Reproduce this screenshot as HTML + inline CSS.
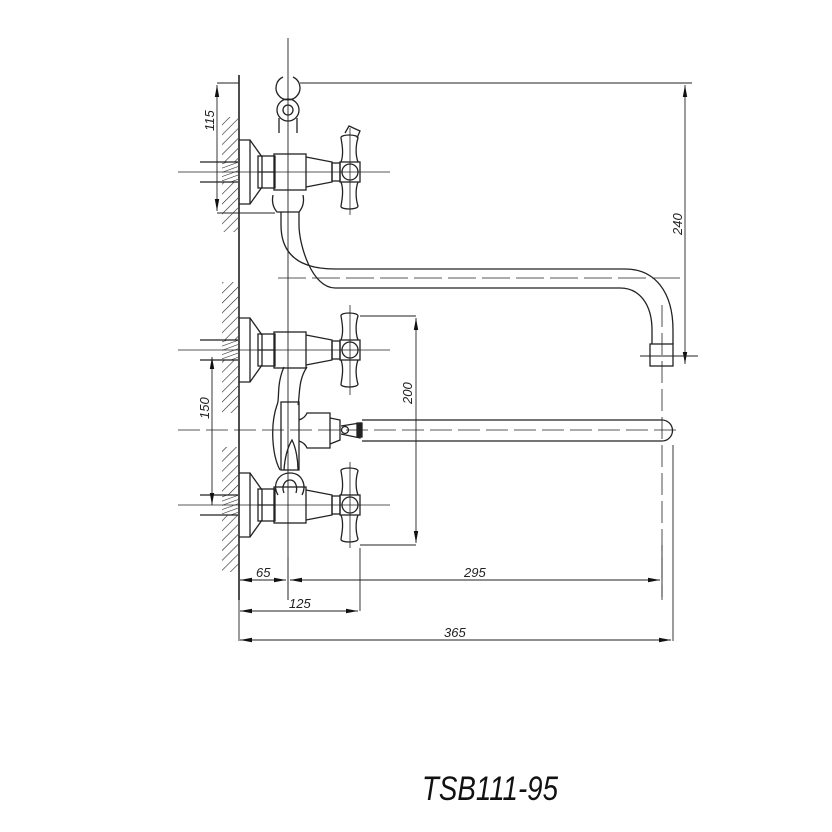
<!DOCTYPE html>
<html><head><meta charset="utf-8"><style>
html,body{margin:0;padding:0;background:#fff}
svg{display:block}
</style></head><body>
<svg width="832" height="832" viewBox="0 0 832 832" xmlns="http://www.w3.org/2000/svg">
<defs>
<pattern id="h" width="7" height="7" patternUnits="userSpaceOnUse" patternTransform="rotate(45)">
<line x1="0" y1="0" x2="0" y2="7" stroke="#222" stroke-width="1.2"/>
</pattern>
<pattern id="t" width="4" height="4" patternUnits="userSpaceOnUse" patternTransform="rotate(70)">
<line x1="0" y1="0" x2="0" y2="4" stroke="#222" stroke-width="1.1"/>
</pattern>
<marker id="a" markerWidth="12" markerHeight="6" refX="12" refY="3" orient="auto-start-reverse" markerUnits="userSpaceOnUse">
<path d="M0,0.8 L12,3 L0,5.2 Z" fill="#111"/>
</marker>
<g id="valve" fill="none" stroke="#222" stroke-width="1.3">
<path d="M239,-32 L250,-32 L262,-15 L262,15 L250,32 L239,32"/>
<line x1="250" y1="-32" x2="250" y2="32"/>
<rect x="258" y="-16" width="17" height="32"/>
<line x1="258" y1="0" x2="275" y2="0"/>
<rect x="274" y="-18" width="32" height="36"/>
<path d="M306,-15 L332,-10 L332,10 L306,15"/>
<rect x="332" y="-9" width="8" height="18"/>
<rect x="340" y="-10" width="20" height="20"/>
<circle cx="350" cy="0" r="8"/>
<path d="M341,-10 C344,-18 342,-28 341,-34 C340,-38 358,-38 358,-34 C356,-28 355,-18 358,-10"/>
<path d="M341,10 C344,18 342,28 341,34 C340,38 358,38 358,34 C356,28 355,18 358,10"/>
<rect x="222" y="-10" width="16" height="20" fill="url(#t)" stroke="none"/>
<line x1="200" y1="-10" x2="238" y2="-10"/>
<line x1="200" y1="10" x2="238" y2="10"/>
</g>
</defs>

<rect x="222" y="117" width="16" height="115" fill="url(#h)"/>
<rect x="222" y="282" width="16" height="131" fill="url(#h)"/>
<rect x="222" y="447" width="16" height="125" fill="url(#h)"/>
<rect x="222" y="162" width="16" height="20" fill="#fff"/>
<rect x="222" y="340" width="16" height="20" fill="#fff"/>
<rect x="222" y="495" width="16" height="20" fill="#fff"/>

<g stroke="#222" fill="none">
<line x1="239" y1="75" x2="239" y2="600" stroke-width="1.6"/>
<line x1="288" y1="38" x2="288" y2="600" stroke-width="0.9"/>
<line x1="178" y1="172" x2="390" y2="172" stroke-width="0.8"/>
<line x1="178" y1="350" x2="390" y2="350" stroke-width="0.8"/>
<line x1="178" y1="505" x2="390" y2="505" stroke-width="0.8"/>
<line x1="178" y1="430" x2="680" y2="430" stroke-width="0.8" stroke-dasharray="22,6"/>
<line x1="278" y1="278" x2="680" y2="278" stroke-width="0.8" stroke-dasharray="28,6"/>
<line x1="350" y1="128" x2="350" y2="215" stroke-width="0.8"/>
<line x1="350" y1="305" x2="350" y2="395" stroke-width="0.8"/>
<line x1="350" y1="462" x2="350" y2="548" stroke-width="0.8"/>
<line x1="662" y1="305" x2="662" y2="600" stroke-width="0.8" stroke-dasharray="22,6"/>
</g>

<use href="#valve" transform="translate(0,172)"/>
<use href="#valve" transform="translate(0,350)"/>
<use href="#valve" transform="translate(0,505)"/>

<g fill="none" stroke="#222" stroke-width="1.3">
<path d="M283,77 A12,12 0 1 0 293,77"/>
<circle cx="288" cy="110" r="11"/>
<circle cx="288" cy="110" r="5"/>
<path d="M279,118 L279,133 M297,118 L297,133"/>
<path d="M345,133 L349,126 L360,131 L357,138" />
<path d="M273,195 Q271,205 277,212 L299,212 Q305,205 303,195"/>
<path d="M281,212 L281,225 C281,255 300,269 335,269 L625,269 C655,269 673,292 673,330 L673,344"/>
<path d="M299,212 L299,225 C299,245 312,288 335,288 L620,288 C640,288 652,305 652,330 L652,344"/>
<rect x="650" y="344" width="23" height="22"/>
<path d="M284,367 C276,385 280,400 277,405 C270,425 272,455 280,470"/>
<path d="M307,367 C298,380 300,395 298,405"/>
<rect x="281" y="402" width="18" height="68"/>
<path d="M284,470 C285,455 289,445 292,440 C296,448 298,460 298,470"/>
<path d="M299,420 Q305,418 307,413 L330,413 L330,448 L307,448 Q305,443 299,441"/>
<path d="M330,418 L340,420 L340,440 L330,444"/>
<circle cx="345" cy="430" r="3.5"/>
<path d="M341,426 L360,423 L360,438 L341,434"/>
<rect x="357" y="423" width="5" height="14" fill="#222"/>
<path d="M362,420 L662,420 A10.5,10.5 0 0 1 662,441 L362,441"/>
<path d="M278,495 C272,485 278,473 290,473 C302,473 307,485 302,495"/>
<path d="M284,493 C281,486 285,480 290,480 C295,480 298,486 296,493"/>
</g>

<g stroke="#222" stroke-width="0.9" fill="none">
<line x1="300" y1="83" x2="692" y2="83"/>
<line x1="217" y1="83" x2="239" y2="83"/>
<line x1="217" y1="213" x2="275" y2="213"/>
<line x1="217" y1="85" x2="217" y2="211" marker-start="url(#a)" marker-end="url(#a)"/>
<line x1="685" y1="85" x2="685" y2="364" marker-start="url(#a)" marker-end="url(#a)"/>
<line x1="640" y1="356" x2="698" y2="356"/>
<line x1="212" y1="357" x2="212" y2="505" marker-start="url(#a)" marker-end="url(#a)"/>
<line x1="360" y1="316" x2="416" y2="316"/>
<line x1="360" y1="545" x2="416" y2="545"/>
<line x1="416" y1="318" x2="416" y2="543" marker-start="url(#a)" marker-end="url(#a)"/>
<line x1="288" y1="557" x2="288" y2="600"/>
<line x1="662" y1="545" x2="662" y2="597"/>
<line x1="360" y1="548" x2="360" y2="611"/>
<line x1="673" y1="445" x2="673" y2="641"/>
<line x1="239" y1="600" x2="239" y2="641"/>
<line x1="240" y1="580" x2="286" y2="580" marker-start="url(#a)" marker-end="url(#a)"/>
<line x1="290" y1="580" x2="660" y2="580" marker-start="url(#a)" marker-end="url(#a)"/>
<line x1="240" y1="611" x2="358" y2="611" marker-start="url(#a)" marker-end="url(#a)"/>
<line x1="240" y1="640" x2="671" y2="640" marker-start="url(#a)" marker-end="url(#a)"/>
</g>
<g font-family="Liberation Sans, sans-serif" font-style="italic" font-size="13" fill="#222">
<text x="256" y="577">65</text>
<text x="464" y="577">295</text>
<text x="289" y="608">125</text>
<text x="444" y="637">365</text>
<text transform="translate(214,131) rotate(-90)">115</text>
<text transform="translate(209,419) rotate(-90)">150</text>
<text transform="translate(412,404) rotate(-90)">200</text>
<text transform="translate(682,235) rotate(-90)">240</text>
</g>
<text x="422" y="800" font-family="Liberation Sans, sans-serif" font-style="italic" font-size="34" textLength="136" lengthAdjust="spacingAndGlyphs" fill="#111">TSB111-95</text>
</svg>
</body></html>
